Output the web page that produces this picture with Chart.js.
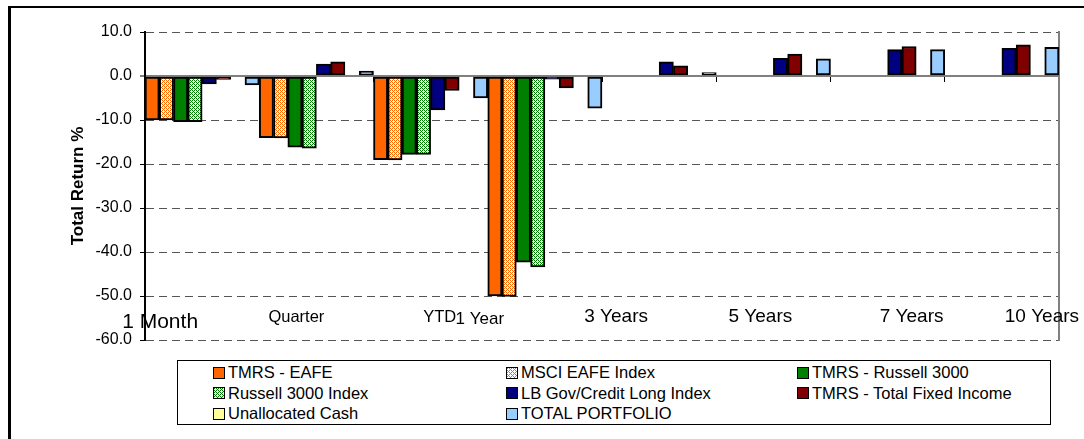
<!DOCTYPE html>
<html><head><meta charset="utf-8">
<script src="https://cdn.jsdelivr.net/npm/chart.js@4.4.1/dist/chart.umd.min.js"></script>
<style>
html,body{margin:0;padding:0;background:#fff;}
#wrap{position:relative;width:1084px;height:439px;overflow:hidden;font-family:"Liberation Sans",Arial,sans-serif;}
#chartBox{position:absolute;left:0;top:0;width:1084px;height:439px;}
#frame{position:absolute;left:8px;top:6px;width:3000px;height:3000px;border-left:3px solid #000;border-top:2px solid #000;pointer-events:none;}
#legend{position:absolute;left:177px;top:360px;width:874px;height:65px;box-sizing:border-box;border:1px solid #000;background:#fff;display:grid;grid-template-columns:293px 291px 1fr;grid-auto-rows:20.5px;padding:1.5px 0 0 35px;font-size:16.5px;color:#000;}
.item{display:flex;align-items:center;white-space:nowrap;}
.sw{width:12px;height:12px;box-sizing:border-box;border:1.5px solid #000;margin-right:3px;image-rendering:pixelated;background-size:4px 4px;}
</style></head>
<body>
<div id="wrap">
  <div id="chartBox"><canvas id="c"></canvas></div>
  <div id="frame"></div>
  <div id="legend"></div>
</div>
<script>
// ---- data ----
const categories = ['1 Month', 'Quarter', 'YTD', '1 Year', '3 Years', '5 Years', '7 Years', '10 Years'];
const tmrsEafe        = [-10.0, -14.0, -19.0, -50.0, null, null, null, null];
const msciEafe        = [-10.0, -14.1, -19.1, -50.1, null, null, null, null];
const tmrsRussell     = [-10.4, -16.2, -17.8, -42.3, null, null, null, null];
const russellIndex    = [-10.4, -16.4, -17.8, -43.4, null, null, null, null];
const lbGovCredit     = [-1.8, 2.7, -7.7, -0.7, 3.2, 4.0, 6.0, 6.3];
const tmrsFixedIncome = [-0.8, 3.2, -3.3, -2.7, 2.3, 5.0, 6.7, 7.1];
const unallocatedCash = [null, null, null, null, null, null, null, null];
const totalPortfolio  = [-2.0, 1.1, -5.0, -7.3, 0.8, 3.9, 6.0, 6.5];
const yMin = -60, yMax = 10, yStep = 10;

// ---- styles (label placement/size, not data) ----
const labelSizes = [21, 16.5, 16.5, 17, 19, 19, 19, 19];
const labelDx    = [-42, -20, 9, -65, -43, -13, 24, 40];
const labelDy    = [-12, -18, -18, -16, -18, -18, -18, -18];

const FONT = '"Liberation Sans", Arial, Helvetica, sans-serif';
Chart.defaults.font.family = FONT;
Chart.defaults.color = '#000';

function makeTile(color) {
  const c = document.createElement('canvas');
  c.width = 4; c.height = 4;
  const g = c.getContext('2d');
  g.fillStyle = '#fff'; g.fillRect(0, 0, 4, 4);
  g.fillStyle = color;
  [[0,0],[2,0],[3,1],[0,2],[2,2],[1,3]].forEach(([x, y]) => g.fillRect(x, y, 1, 1));
  return c;
}
const cvs = document.getElementById('c');
const ctx = cvs.getContext('2d');
const orangeTile = makeTile('#FF6600');
const greenTile = makeTile('#008000');

const series = [
  {label: 'TMRS - EAFE', data: tmrsEafe, color: '#FF6600'},
  {label: 'MSCI EAFE Index', data: msciEafe, tile: orangeTile},
  {label: 'TMRS - Russell 3000', data: tmrsRussell, color: '#008000'},
  {label: 'Russell 3000 Index', data: russellIndex, tile: greenTile},
  {label: 'LB Gov/Credit Long Index', data: lbGovCredit, color: '#000080'},
  {label: 'TMRS - Total Fixed Income', data: tmrsFixedIncome, color: '#800000'},
  {label: 'Unallocated Cash', data: unallocatedCash, color: '#FFFF99'},
  {label: 'TOTAL PORTFOLIO', data: totalPortfolio, color: '#99CCFF'}
];

const datasets = series.map(s => ({
  label: s.label,
  data: s.data,
  backgroundColor: s.tile ? ctx.createPattern(s.tile, 'repeat') : s.color,
  borderColor: '#000',
  borderWidth: 2,
  borderSkipped: false,
  categoryPercentage: 1.0,
  barPercentage: 1.0
}));

const xLabelPlugin = {
  id: 'xLabels',
  afterDraw(chart) {
    const xs = chart.scales.x, ys = chart.scales.y, g = chart.ctx;
    g.save();
    g.fillStyle = '#000';
    g.textAlign = 'center';
    g.textBaseline = 'alphabetic';
    categories.forEach((lab, i) => {
      g.font = labelSizes[i] + 'px ' + FONT;
      g.fillText(lab, xs.getPixelForValue(i) + labelDx[i], ys.bottom + labelDy[i]);
    });
    g.restore();
  }
};

const chart = new Chart(cvs, {
  type: 'bar',
  data: {labels: categories, datasets},
  options: {
    responsive: true,
    maintainAspectRatio: false,
    animation: false,
    events: [],
    layout: {padding: {left: 0, top: 32, right: 25, bottom: 99}},
    plugins: {legend: {display: false}, tooltip: {enabled: false}},
    scales: {
      x: {
        position: {y: 0},
        offset: true,
        ticks: {display: false},
        grid: {drawOnChartArea: false, drawTicks: true, tickLength: 5, tickColor: '#000', tickWidth: 1, offset: true},
        border: {display: true, color: '#808080', width: 2}
      },
      y: {
        position: 'left',
        min: yMin, max: yMax,
        ticks: {stepSize: yStep, padding: 8, font: {size: 16}, color: '#000',
                callback: v => Number(v).toFixed(1)},
        grid: {
          color: c => (c.tick && c.tick.value === 0) ? '#808080' : '#555',
          lineWidth: c => (c.tick && c.tick.value === 0) ? 2 : 1,
          drawTicks: true, tickLength: 5, tickColor: '#000', tickWidth: 1
        },
        border: {display: true, color: '#000', width: 2, dash: [8, 5]},
        title: {display: true, text: 'Total Return %', font: {size: 17, weight: 'bold'}, color: '#000', padding: {top: 68, bottom: 0}},
        afterFit: s => { s.width = 145; }
      },
      y2: {
        position: 'right',
        min: yMin, max: yMax,
        ticks: {display: false},
        grid: {display: false, drawTicks: false},
        border: {display: true, color: '#808080', width: 2}
      }
    }
  },
  plugins: [xLabelPlugin]
});

// HTML legend generated from the chart's datasets
const legendEl = document.getElementById('legend');
chart.data.datasets.forEach((ds, i) => {
  const s = series[i];
  const item = document.createElement('div');
  item.className = 'item';
  const sw = document.createElement('span');
  sw.className = 'sw';
  if (s.tile) sw.style.backgroundImage = 'url(' + s.tile.toDataURL() + ')';
  else sw.style.background = s.color;
  const tx = document.createElement('span');
  tx.textContent = ds.label;
  item.appendChild(sw); item.appendChild(tx);
  legendEl.appendChild(item);
});
</script>
</body></html>
